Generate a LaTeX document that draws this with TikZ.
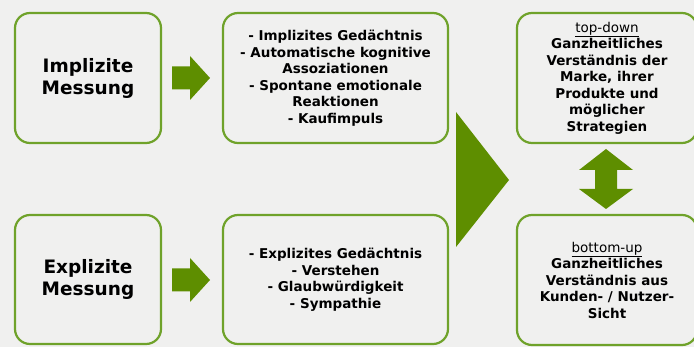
\documentclass[tikz,border=0pt]{standalone}
\usepackage{fontspec}
\setmainfont{DejaVu Sans}
\definecolor{boxgreen}{HTML}{6FA22A}
\definecolor{arrowgreen}{HTML}{5E8E00}
\definecolor{bggray}{HTML}{F0F0EF}
\begin{document}
\begin{tikzpicture}[x=1pt,y=-1pt,
  box/.style={draw=boxgreen,line width=2.2pt,rounded corners=15pt,fill=bggray,
    align=center,inner sep=0pt,font=\bfseries\fontsize{13.5}{16.5}\selectfont},
  bigbox/.style={box,font=\bfseries\fontsize{18.5}{22}\selectfont},
  blk/.style={fill=arrowgreen}]
\useasboundingbox[fill=bggray] (0,0) rectangle (694,347);
% Messung
\node (impl) at (88,78)[bigbox,minimum width=146pt,minimum height=130pt] {Implizite\\Messung};
\node (expl) at (88,279.5)[bigbox,minimum width=146pt,minimum height=129pt] {Explizite\\Messung};
% Inhalte
\node (implitems) at (335.5,78)[box,minimum width=225pt,minimum height=130pt]
  {- Implizites Gedächtnis\\- Automatische kognitive\\Assoziationen\\- Spontane emotionale\\Reaktionen\\- Kaufimpuls};
\node (explitems) at (335.5,279.5)[box,minimum width=225pt,minimum height=129pt]
  {- Explizites Gedächtnis\\- Verstehen\\- Glaubwürdigkeit\\- Sympathie};
% Verstaendnis
\node (topdown) at (607,78)[box,minimum width=180pt,minimum height=130pt]
  {\mdseries\underline{top-down}\\Ganzheitliches\\Verständnis der\\Marke, ihrer\\Produkte und\\möglicher\\Strategien};
\node (bottomup) at (607,280)[box,minimum width=180pt,minimum height=130pt]
  {\mdseries\underline{bottom-up}\\Ganzheitliches\\Verständnis aus\\Kunden- / Nutzer-\\Sicht};
% Pfeile
\fill[blk] (172,66.5) -- (190,66.5) -- (190,56) -- (210,78) -- (190,100) -- (190,89.5) -- (172,89.5) -- cycle;
\fill[blk] (172,268.5) -- (190,268.5) -- (190,258) -- (210,280) -- (190,302) -- (190,291.5) -- (172,291.5) -- cycle;
\fill[blk] (456,112) -- (509,180) -- (456,247) -- cycle;
\fill[blk] (606,149) -- (633,170) -- (617,170) -- (617,189) -- (633,189) -- (606,209)
  -- (579,189) -- (595,189) -- (595,170) -- (579,170) -- cycle;
\end{tikzpicture}
\end{document}
